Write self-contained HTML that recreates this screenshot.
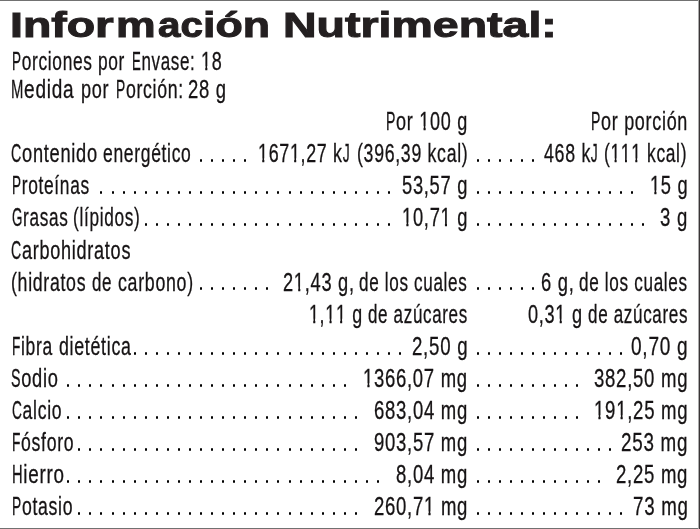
<!DOCTYPE html>
<html><head><meta charset="utf-8"><style>
html,body{margin:0;padding:0;}
body{width:700px;height:529px;position:relative;overflow:hidden;background:#fff;will-change:transform;font-family:"Liberation Sans",sans-serif;color:#231f20;}
.t{position:absolute;white-space:pre;font-size:25.5px;line-height:25.5px;letter-spacing:1.0px;font-kerning:none;transform-origin:0 0;color:#161314;-webkit-text-stroke:0.3px #161314;}
.u{display:inline-block;transform:scaleX(0.78);transform-origin:0 0;}.o1{display:inline-block;clip-path:polygon(0 0,17.18px 0,17.18px 17.0px,8.97px 17.0px,8.97px 40px,6.11px 40px,6.11px 17.0px,0 17.0px);}
.ti{position:absolute;white-space:pre;font-weight:bold;font-size:35px;line-height:35px;transform-origin:0 0;-webkit-text-stroke:1.0px #231f20;}
.d{position:absolute;width:2px;height:3px;border-radius:1px;background:#000;}
.bt{position:absolute;left:0;top:0;width:700px;height:1px;background:#717171;}
.bb{position:absolute;left:0;top:528px;width:700px;height:1px;background:#717171;}
.br{position:absolute;left:699px;top:0;width:1px;height:529px;background:#3a3637;}
.br2{position:absolute;left:698px;top:0;width:1px;height:529px;background:#ababab;}
</style></head><body>
<div class="bt"></div><div class="bb"></div><div class="br2"></div><div class="br"></div>
<div class="ti" style="left:10.48px;top:7.10px;transform:scaleX(1.3285)">Info</div>
<div class="ti" style="left:95.30px;top:7.10px;transform:scaleX(1.3702)">r</div>
<div class="ti" style="left:116.07px;top:7.10px;transform:scaleX(1.2721)">m</div>
<div class="ti" style="left:157.72px;top:7.10px;transform:scaleX(1.1526)">ac</div>
<div class="ti" style="left:202.75px;top:7.10px;transform:scaleX(1.2759)">ión</div>
<div class="ti" style="left:282.58px;top:7.10px;transform:scaleX(1.3285)">Nutrimental:</div>
<div class="t" style="left:11.88px;top:49.00px;transform:scaleX(0.6797)"><span class="u" style="letter-spacing:-2.74px">P</span>orciones</div>
<div class="t" style="left:97.88px;top:49.00px;transform:scaleX(0.6784)">por</div>
<div class="t" style="left:131.60px;top:49.00px;transform:scaleX(0.6656)"><span class="u" style="letter-spacing:-2.74px">E</span>nvase:</div>
<div class="t" style="left:201.41px;top:49.00px;transform:scaleX(0.7048)"><span class="o1">1</span>8</div>
<div class="t" style="left:11.28px;top:77.20px;transform:scaleX(0.7456)"><span class="u" style="letter-spacing:-3.67px">M</span>edida</div>
<div class="t" style="left:81.43px;top:77.20px;transform:scaleX(0.7108)">por</div>
<div class="t" style="left:115.56px;top:77.20px;transform:scaleX(0.6949)"><span class="u" style="letter-spacing:-2.74px">P</span>orción:</div>
<div class="t" style="left:188.00px;top:77.20px;transform:scaleX(0.7236)">28 g</div>
<div class="t" style="left:386.34px;top:109.10px;transform:scaleX(0.7069)"><span class="u" style="letter-spacing:-2.74px">P</span>or <span class="o1">1</span>00 g</div>
<div class="t" style="left:590.94px;top:109.10px;transform:scaleX(0.7050)"><span class="u" style="letter-spacing:-2.74px">P</span>or porción</div>
<div class="t" style="left:11.48px;top:141.20px;transform:scaleX(0.7163)"><span class="u" style="letter-spacing:-3.05px">C</span>ontenido</div>
<div class="t" style="left:102.91px;top:141.20px;transform:scaleX(0.6857)">energético</div>
<div class="t" style="left:258.42px;top:141.20px;transform:scaleX(0.7002)"><span class="o1">1</span>67<span class="o1">1</span>,27 k<span class="u" style="letter-spacing:-1.80px">J</span></div>
<div class="t" style="left:356.66px;top:141.20px;transform:scaleX(0.6946)">(396,39 kcal)</div>
<div class="t" style="left:543.95px;top:141.20px;transform:scaleX(0.6973)">468 k<span class="u" style="letter-spacing:-1.80px">J</span></div>
<div class="t" style="left:604.08px;top:141.20px;transform:scaleX(0.6814)">(<span class="o1">1</span><span class="o1">1</span><span class="o1">1</span> kcal)</div>
<div class="t" style="left:11.88px;top:173.30px;transform:scaleX(0.6804)"><span class="u" style="letter-spacing:-2.74px">P</span>roteínas</div>
<div class="t" style="left:402.18px;top:173.30px;transform:scaleX(0.7175)">53,57 g</div>
<div class="t" style="left:649.79px;top:173.30px;transform:scaleX(0.7159)"><span class="o1">1</span>5 g</div>
<div class="t" style="left:11.53px;top:205.40px;transform:scaleX(0.6728)"><span class="u" style="letter-spacing:-3.36px">G</span>rasas</div>
<div class="t" style="left:72.59px;top:205.40px;transform:scaleX(0.6757)">(lípidos)</div>
<div class="t" style="left:402.08px;top:205.40px;transform:scaleX(0.7186)"><span class="o1">1</span>0,7<span class="o1">1</span> g</div>
<div class="t" style="left:660.16px;top:205.40px;transform:scaleX(0.7262)">3 g</div>
<div class="t" style="left:11.49px;top:237.50px;transform:scaleX(0.7104)"><span class="u" style="letter-spacing:-3.05px">C</span>arbohidratos</div>
<div class="t" style="left:10.86px;top:269.60px;transform:scaleX(0.6952)">(hidratos</div>
<div class="t" style="left:91.63px;top:269.60px;transform:scaleX(0.6655)">de</div>
<div class="t" style="left:117.90px;top:269.60px;transform:scaleX(0.6974)">carbono)</div>
<div class="t" style="left:283.41px;top:269.60px;transform:scaleX(0.7154)">2<span class="o1">1</span>,43 g,</div>
<div class="t" style="left:359.43px;top:269.60px;transform:scaleX(0.6698)">de los cuales</div>
<div class="t" style="left:541.00px;top:269.60px;transform:scaleX(0.7195)">6 g,</div>
<div class="t" style="left:579.33px;top:269.60px;transform:scaleX(0.6723)">de los cuales</div>
<div class="t" style="left:308.93px;top:301.70px;transform:scaleX(0.6990)"><span class="o1">1</span>,<span class="o1">1</span><span class="o1">1</span> g</div>
<div class="t" style="left:367.83px;top:301.70px;transform:scaleX(0.6662)">de azúcares</div>
<div class="t" style="left:527.97px;top:301.70px;transform:scaleX(0.7119)">0,3<span class="o1">1</span> g</div>
<div class="t" style="left:587.83px;top:301.70px;transform:scaleX(0.6683)">de azúcares</div>
<div class="t" style="left:11.67px;top:333.80px;transform:scaleX(0.6847)"><span class="u" style="letter-spacing:-2.43px">F</span>ibra</div>
<div class="t" style="left:58.90px;top:333.80px;transform:scaleX(0.6983)">dietética</div>
<div class="t" style="left:412.09px;top:333.80px;transform:scaleX(0.7315)">2,50 g</div>
<div class="t" style="left:630.84px;top:333.80px;transform:scaleX(0.7469)">0,70 g</div>
<div class="t" style="left:11.26px;top:365.90px;transform:scaleX(0.7169)"><span class="u" style="letter-spacing:-2.74px">S</span>odio</div>
<div class="t" style="left:363.37px;top:365.90px;transform:scaleX(0.7243)"><span class="o1">1</span>366,07 mg</div>
<div class="t" style="left:593.85px;top:365.90px;transform:scaleX(0.7279)">382,50 mg</div>
<div class="t" style="left:11.51px;top:398.00px;transform:scaleX(0.6896)"><span class="u" style="letter-spacing:-3.05px">C</span>alcio</div>
<div class="t" style="left:374.29px;top:398.00px;transform:scaleX(0.7252)">683,04 mg</div>
<div class="t" style="left:593.76px;top:398.00px;transform:scaleX(0.7287)"><span class="o1">1</span>9<span class="o1">1</span>,25 mg</div>
<div class="t" style="left:11.66px;top:430.10px;transform:scaleX(0.6913)"><span class="u" style="letter-spacing:-2.43px">F</span>ósforo</div>
<div class="t" style="left:374.27px;top:430.10px;transform:scaleX(0.7254)">903,57 mg</div>
<div class="t" style="left:621.08px;top:430.10px;transform:scaleX(0.7370)">253 mg</div>
<div class="t" style="left:11.59px;top:462.20px;transform:scaleX(0.7382)"><span class="u" style="letter-spacing:-3.05px">H</span>ierro</div>
<div class="t" style="left:396.27px;top:462.20px;transform:scaleX(0.7267)">8,04 mg</div>
<div class="t" style="left:616.09px;top:462.20px;transform:scaleX(0.7276)">2,25 mg</div>
<div class="t" style="left:11.66px;top:494.30px;transform:scaleX(0.6926)"><span class="u" style="letter-spacing:-2.74px">P</span>otasio</div>
<div class="t" style="left:374.09px;top:494.30px;transform:scaleX(0.7268)">260,7<span class="o1">1</span> mg</div>
<div class="t" style="left:632.58px;top:494.30px;transform:scaleX(0.7333)">73 mg</div>
<div class="d" style="left:200px;top:159px"></div>
<div class="d" style="left:211px;top:159px"></div>
<div class="d" style="left:222px;top:159px"></div>
<div class="d" style="left:233px;top:159px"></div>
<div class="d" style="left:244px;top:159px"></div>
<div class="d" style="left:477px;top:159px"></div>
<div class="d" style="left:488px;top:159px"></div>
<div class="d" style="left:499px;top:159px"></div>
<div class="d" style="left:510px;top:159px"></div>
<div class="d" style="left:521px;top:159px"></div>
<div class="d" style="left:532px;top:159px"></div>
<div class="d" style="left:100px;top:191px"></div>
<div class="d" style="left:112px;top:191px"></div>
<div class="d" style="left:123px;top:191px"></div>
<div class="d" style="left:134px;top:191px"></div>
<div class="d" style="left:145px;top:191px"></div>
<div class="d" style="left:156px;top:191px"></div>
<div class="d" style="left:167px;top:191px"></div>
<div class="d" style="left:178px;top:191px"></div>
<div class="d" style="left:189px;top:191px"></div>
<div class="d" style="left:200px;top:191px"></div>
<div class="d" style="left:211px;top:191px"></div>
<div class="d" style="left:222px;top:191px"></div>
<div class="d" style="left:233px;top:191px"></div>
<div class="d" style="left:244px;top:191px"></div>
<div class="d" style="left:255px;top:191px"></div>
<div class="d" style="left:266px;top:191px"></div>
<div class="d" style="left:277px;top:191px"></div>
<div class="d" style="left:289px;top:191px"></div>
<div class="d" style="left:300px;top:191px"></div>
<div class="d" style="left:311px;top:191px"></div>
<div class="d" style="left:322px;top:191px"></div>
<div class="d" style="left:333px;top:191px"></div>
<div class="d" style="left:344px;top:191px"></div>
<div class="d" style="left:355px;top:191px"></div>
<div class="d" style="left:366px;top:191px"></div>
<div class="d" style="left:377px;top:191px"></div>
<div class="d" style="left:388px;top:191px"></div>
<div class="d" style="left:477px;top:191px"></div>
<div class="d" style="left:488px;top:191px"></div>
<div class="d" style="left:499px;top:191px"></div>
<div class="d" style="left:510px;top:191px"></div>
<div class="d" style="left:521px;top:191px"></div>
<div class="d" style="left:532px;top:191px"></div>
<div class="d" style="left:543px;top:191px"></div>
<div class="d" style="left:554px;top:191px"></div>
<div class="d" style="left:565px;top:191px"></div>
<div class="d" style="left:576px;top:191px"></div>
<div class="d" style="left:587px;top:191px"></div>
<div class="d" style="left:598px;top:191px"></div>
<div class="d" style="left:609px;top:191px"></div>
<div class="d" style="left:620px;top:191px"></div>
<div class="d" style="left:631px;top:191px"></div>
<div class="d" style="left:145px;top:223px"></div>
<div class="d" style="left:156px;top:223px"></div>
<div class="d" style="left:167px;top:223px"></div>
<div class="d" style="left:178px;top:223px"></div>
<div class="d" style="left:189px;top:223px"></div>
<div class="d" style="left:200px;top:223px"></div>
<div class="d" style="left:211px;top:223px"></div>
<div class="d" style="left:222px;top:223px"></div>
<div class="d" style="left:233px;top:223px"></div>
<div class="d" style="left:244px;top:223px"></div>
<div class="d" style="left:255px;top:223px"></div>
<div class="d" style="left:266px;top:223px"></div>
<div class="d" style="left:277px;top:223px"></div>
<div class="d" style="left:289px;top:223px"></div>
<div class="d" style="left:300px;top:223px"></div>
<div class="d" style="left:311px;top:223px"></div>
<div class="d" style="left:322px;top:223px"></div>
<div class="d" style="left:333px;top:223px"></div>
<div class="d" style="left:344px;top:223px"></div>
<div class="d" style="left:355px;top:223px"></div>
<div class="d" style="left:366px;top:223px"></div>
<div class="d" style="left:377px;top:223px"></div>
<div class="d" style="left:388px;top:223px"></div>
<div class="d" style="left:477px;top:223px"></div>
<div class="d" style="left:488px;top:223px"></div>
<div class="d" style="left:499px;top:223px"></div>
<div class="d" style="left:510px;top:223px"></div>
<div class="d" style="left:521px;top:223px"></div>
<div class="d" style="left:532px;top:223px"></div>
<div class="d" style="left:543px;top:223px"></div>
<div class="d" style="left:554px;top:223px"></div>
<div class="d" style="left:565px;top:223px"></div>
<div class="d" style="left:576px;top:223px"></div>
<div class="d" style="left:587px;top:223px"></div>
<div class="d" style="left:598px;top:223px"></div>
<div class="d" style="left:609px;top:223px"></div>
<div class="d" style="left:620px;top:223px"></div>
<div class="d" style="left:631px;top:223px"></div>
<div class="d" style="left:642px;top:223px"></div>
<div class="d" style="left:200px;top:287px"></div>
<div class="d" style="left:211px;top:287px"></div>
<div class="d" style="left:222px;top:287px"></div>
<div class="d" style="left:233px;top:287px"></div>
<div class="d" style="left:244px;top:287px"></div>
<div class="d" style="left:255px;top:287px"></div>
<div class="d" style="left:266px;top:287px"></div>
<div class="d" style="left:477px;top:287px"></div>
<div class="d" style="left:488px;top:287px"></div>
<div class="d" style="left:499px;top:287px"></div>
<div class="d" style="left:510px;top:287px"></div>
<div class="d" style="left:521px;top:287px"></div>
<div class="d" style="left:532px;top:287px"></div>
<div class="d" style="left:134px;top:352px"></div>
<div class="d" style="left:145px;top:352px"></div>
<div class="d" style="left:156px;top:352px"></div>
<div class="d" style="left:167px;top:352px"></div>
<div class="d" style="left:178px;top:352px"></div>
<div class="d" style="left:189px;top:352px"></div>
<div class="d" style="left:200px;top:352px"></div>
<div class="d" style="left:211px;top:352px"></div>
<div class="d" style="left:222px;top:352px"></div>
<div class="d" style="left:233px;top:352px"></div>
<div class="d" style="left:244px;top:352px"></div>
<div class="d" style="left:255px;top:352px"></div>
<div class="d" style="left:266px;top:352px"></div>
<div class="d" style="left:277px;top:352px"></div>
<div class="d" style="left:289px;top:352px"></div>
<div class="d" style="left:300px;top:352px"></div>
<div class="d" style="left:311px;top:352px"></div>
<div class="d" style="left:322px;top:352px"></div>
<div class="d" style="left:333px;top:352px"></div>
<div class="d" style="left:344px;top:352px"></div>
<div class="d" style="left:355px;top:352px"></div>
<div class="d" style="left:366px;top:352px"></div>
<div class="d" style="left:377px;top:352px"></div>
<div class="d" style="left:388px;top:352px"></div>
<div class="d" style="left:399px;top:352px"></div>
<div class="d" style="left:477px;top:352px"></div>
<div class="d" style="left:488px;top:352px"></div>
<div class="d" style="left:499px;top:352px"></div>
<div class="d" style="left:510px;top:352px"></div>
<div class="d" style="left:521px;top:352px"></div>
<div class="d" style="left:532px;top:352px"></div>
<div class="d" style="left:543px;top:352px"></div>
<div class="d" style="left:554px;top:352px"></div>
<div class="d" style="left:565px;top:352px"></div>
<div class="d" style="left:576px;top:352px"></div>
<div class="d" style="left:587px;top:352px"></div>
<div class="d" style="left:598px;top:352px"></div>
<div class="d" style="left:609px;top:352px"></div>
<div class="d" style="left:620px;top:352px"></div>
<div class="d" style="left:67px;top:384px"></div>
<div class="d" style="left:78px;top:384px"></div>
<div class="d" style="left:89px;top:384px"></div>
<div class="d" style="left:100px;top:384px"></div>
<div class="d" style="left:112px;top:384px"></div>
<div class="d" style="left:123px;top:384px"></div>
<div class="d" style="left:134px;top:384px"></div>
<div class="d" style="left:145px;top:384px"></div>
<div class="d" style="left:156px;top:384px"></div>
<div class="d" style="left:167px;top:384px"></div>
<div class="d" style="left:178px;top:384px"></div>
<div class="d" style="left:189px;top:384px"></div>
<div class="d" style="left:200px;top:384px"></div>
<div class="d" style="left:211px;top:384px"></div>
<div class="d" style="left:222px;top:384px"></div>
<div class="d" style="left:233px;top:384px"></div>
<div class="d" style="left:244px;top:384px"></div>
<div class="d" style="left:255px;top:384px"></div>
<div class="d" style="left:266px;top:384px"></div>
<div class="d" style="left:277px;top:384px"></div>
<div class="d" style="left:289px;top:384px"></div>
<div class="d" style="left:300px;top:384px"></div>
<div class="d" style="left:311px;top:384px"></div>
<div class="d" style="left:322px;top:384px"></div>
<div class="d" style="left:333px;top:384px"></div>
<div class="d" style="left:344px;top:384px"></div>
<div class="d" style="left:477px;top:384px"></div>
<div class="d" style="left:488px;top:384px"></div>
<div class="d" style="left:499px;top:384px"></div>
<div class="d" style="left:510px;top:384px"></div>
<div class="d" style="left:521px;top:384px"></div>
<div class="d" style="left:532px;top:384px"></div>
<div class="d" style="left:543px;top:384px"></div>
<div class="d" style="left:554px;top:384px"></div>
<div class="d" style="left:565px;top:384px"></div>
<div class="d" style="left:576px;top:384px"></div>
<div class="d" style="left:67px;top:416px"></div>
<div class="d" style="left:78px;top:416px"></div>
<div class="d" style="left:89px;top:416px"></div>
<div class="d" style="left:100px;top:416px"></div>
<div class="d" style="left:112px;top:416px"></div>
<div class="d" style="left:123px;top:416px"></div>
<div class="d" style="left:134px;top:416px"></div>
<div class="d" style="left:145px;top:416px"></div>
<div class="d" style="left:156px;top:416px"></div>
<div class="d" style="left:167px;top:416px"></div>
<div class="d" style="left:178px;top:416px"></div>
<div class="d" style="left:189px;top:416px"></div>
<div class="d" style="left:200px;top:416px"></div>
<div class="d" style="left:211px;top:416px"></div>
<div class="d" style="left:222px;top:416px"></div>
<div class="d" style="left:233px;top:416px"></div>
<div class="d" style="left:244px;top:416px"></div>
<div class="d" style="left:255px;top:416px"></div>
<div class="d" style="left:266px;top:416px"></div>
<div class="d" style="left:277px;top:416px"></div>
<div class="d" style="left:289px;top:416px"></div>
<div class="d" style="left:300px;top:416px"></div>
<div class="d" style="left:311px;top:416px"></div>
<div class="d" style="left:322px;top:416px"></div>
<div class="d" style="left:333px;top:416px"></div>
<div class="d" style="left:344px;top:416px"></div>
<div class="d" style="left:355px;top:416px"></div>
<div class="d" style="left:477px;top:416px"></div>
<div class="d" style="left:488px;top:416px"></div>
<div class="d" style="left:499px;top:416px"></div>
<div class="d" style="left:510px;top:416px"></div>
<div class="d" style="left:521px;top:416px"></div>
<div class="d" style="left:532px;top:416px"></div>
<div class="d" style="left:543px;top:416px"></div>
<div class="d" style="left:554px;top:416px"></div>
<div class="d" style="left:565px;top:416px"></div>
<div class="d" style="left:576px;top:416px"></div>
<div class="d" style="left:78px;top:448px"></div>
<div class="d" style="left:89px;top:448px"></div>
<div class="d" style="left:100px;top:448px"></div>
<div class="d" style="left:112px;top:448px"></div>
<div class="d" style="left:123px;top:448px"></div>
<div class="d" style="left:134px;top:448px"></div>
<div class="d" style="left:145px;top:448px"></div>
<div class="d" style="left:156px;top:448px"></div>
<div class="d" style="left:167px;top:448px"></div>
<div class="d" style="left:178px;top:448px"></div>
<div class="d" style="left:189px;top:448px"></div>
<div class="d" style="left:200px;top:448px"></div>
<div class="d" style="left:211px;top:448px"></div>
<div class="d" style="left:222px;top:448px"></div>
<div class="d" style="left:233px;top:448px"></div>
<div class="d" style="left:244px;top:448px"></div>
<div class="d" style="left:255px;top:448px"></div>
<div class="d" style="left:266px;top:448px"></div>
<div class="d" style="left:277px;top:448px"></div>
<div class="d" style="left:289px;top:448px"></div>
<div class="d" style="left:300px;top:448px"></div>
<div class="d" style="left:311px;top:448px"></div>
<div class="d" style="left:322px;top:448px"></div>
<div class="d" style="left:333px;top:448px"></div>
<div class="d" style="left:344px;top:448px"></div>
<div class="d" style="left:355px;top:448px"></div>
<div class="d" style="left:477px;top:448px"></div>
<div class="d" style="left:488px;top:448px"></div>
<div class="d" style="left:499px;top:448px"></div>
<div class="d" style="left:510px;top:448px"></div>
<div class="d" style="left:521px;top:448px"></div>
<div class="d" style="left:532px;top:448px"></div>
<div class="d" style="left:543px;top:448px"></div>
<div class="d" style="left:554px;top:448px"></div>
<div class="d" style="left:565px;top:448px"></div>
<div class="d" style="left:576px;top:448px"></div>
<div class="d" style="left:587px;top:448px"></div>
<div class="d" style="left:598px;top:448px"></div>
<div class="d" style="left:609px;top:448px"></div>
<div class="d" style="left:67px;top:480px"></div>
<div class="d" style="left:78px;top:480px"></div>
<div class="d" style="left:89px;top:480px"></div>
<div class="d" style="left:100px;top:480px"></div>
<div class="d" style="left:112px;top:480px"></div>
<div class="d" style="left:123px;top:480px"></div>
<div class="d" style="left:134px;top:480px"></div>
<div class="d" style="left:145px;top:480px"></div>
<div class="d" style="left:156px;top:480px"></div>
<div class="d" style="left:167px;top:480px"></div>
<div class="d" style="left:178px;top:480px"></div>
<div class="d" style="left:189px;top:480px"></div>
<div class="d" style="left:200px;top:480px"></div>
<div class="d" style="left:211px;top:480px"></div>
<div class="d" style="left:222px;top:480px"></div>
<div class="d" style="left:233px;top:480px"></div>
<div class="d" style="left:244px;top:480px"></div>
<div class="d" style="left:255px;top:480px"></div>
<div class="d" style="left:266px;top:480px"></div>
<div class="d" style="left:277px;top:480px"></div>
<div class="d" style="left:289px;top:480px"></div>
<div class="d" style="left:300px;top:480px"></div>
<div class="d" style="left:311px;top:480px"></div>
<div class="d" style="left:322px;top:480px"></div>
<div class="d" style="left:333px;top:480px"></div>
<div class="d" style="left:344px;top:480px"></div>
<div class="d" style="left:355px;top:480px"></div>
<div class="d" style="left:366px;top:480px"></div>
<div class="d" style="left:377px;top:480px"></div>
<div class="d" style="left:477px;top:480px"></div>
<div class="d" style="left:488px;top:480px"></div>
<div class="d" style="left:499px;top:480px"></div>
<div class="d" style="left:510px;top:480px"></div>
<div class="d" style="left:521px;top:480px"></div>
<div class="d" style="left:532px;top:480px"></div>
<div class="d" style="left:543px;top:480px"></div>
<div class="d" style="left:554px;top:480px"></div>
<div class="d" style="left:565px;top:480px"></div>
<div class="d" style="left:576px;top:480px"></div>
<div class="d" style="left:587px;top:480px"></div>
<div class="d" style="left:598px;top:480px"></div>
<div class="d" style="left:78px;top:512px"></div>
<div class="d" style="left:89px;top:512px"></div>
<div class="d" style="left:100px;top:512px"></div>
<div class="d" style="left:112px;top:512px"></div>
<div class="d" style="left:123px;top:512px"></div>
<div class="d" style="left:134px;top:512px"></div>
<div class="d" style="left:145px;top:512px"></div>
<div class="d" style="left:156px;top:512px"></div>
<div class="d" style="left:167px;top:512px"></div>
<div class="d" style="left:178px;top:512px"></div>
<div class="d" style="left:189px;top:512px"></div>
<div class="d" style="left:200px;top:512px"></div>
<div class="d" style="left:211px;top:512px"></div>
<div class="d" style="left:222px;top:512px"></div>
<div class="d" style="left:233px;top:512px"></div>
<div class="d" style="left:244px;top:512px"></div>
<div class="d" style="left:255px;top:512px"></div>
<div class="d" style="left:266px;top:512px"></div>
<div class="d" style="left:277px;top:512px"></div>
<div class="d" style="left:289px;top:512px"></div>
<div class="d" style="left:300px;top:512px"></div>
<div class="d" style="left:311px;top:512px"></div>
<div class="d" style="left:322px;top:512px"></div>
<div class="d" style="left:333px;top:512px"></div>
<div class="d" style="left:344px;top:512px"></div>
<div class="d" style="left:355px;top:512px"></div>
<div class="d" style="left:477px;top:512px"></div>
<div class="d" style="left:488px;top:512px"></div>
<div class="d" style="left:499px;top:512px"></div>
<div class="d" style="left:510px;top:512px"></div>
<div class="d" style="left:521px;top:512px"></div>
<div class="d" style="left:532px;top:512px"></div>
<div class="d" style="left:543px;top:512px"></div>
<div class="d" style="left:554px;top:512px"></div>
<div class="d" style="left:565px;top:512px"></div>
<div class="d" style="left:576px;top:512px"></div>
<div class="d" style="left:587px;top:512px"></div>
<div class="d" style="left:598px;top:512px"></div>
<div class="d" style="left:609px;top:512px"></div>
<div class="d" style="left:620px;top:512px"></div>
</body></html>
